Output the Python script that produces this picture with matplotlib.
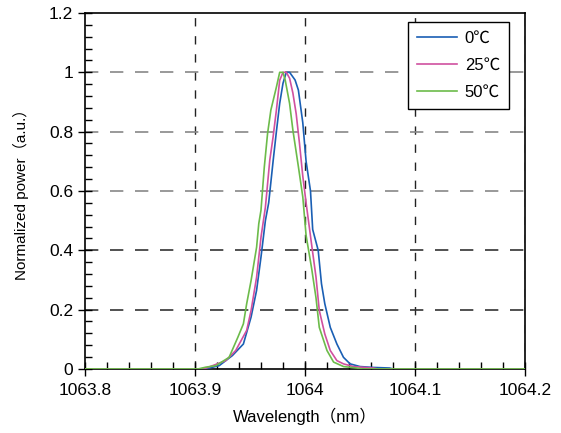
import matplotlib
matplotlib.use("Agg")
import matplotlib.pyplot as plt
from matplotlib.ticker import MultipleLocator

plt.rcParams['font.family'] = ['Liberation Sans', 'Noto Sans CJK JP', 'DejaVu Sans']

# Spectra (wavelength in nm, normalized power)
wl_0c = [1063.800, 1063.905, 1063.913, 1063.922, 1063.934, 1063.944, 1063.951, 1063.956,
         1063.960, 1063.964, 1063.967, 1063.971, 1063.974, 1063.977, 1063.980, 1063.983,
         1063.986, 1063.991, 1063.994, 1063.998, 1064.001, 1064.005, 1064.007, 1064.012,
         1064.015, 1064.018, 1064.023, 1064.029, 1064.035, 1064.041, 1064.050, 1064.062,
         1064.077, 1064.080, 1064.200]
pw_0c = [0.0, 0.0, 0.003, 0.011, 0.045, 0.084, 0.175, 0.265,
         0.377, 0.50, 0.56, 0.70, 0.80, 0.895, 0.963, 1.0,
         1.0, 0.974, 0.94, 0.83, 0.70, 0.60, 0.47, 0.40,
         0.287, 0.22, 0.14, 0.084, 0.039, 0.017, 0.008, 0.005,
         0.003, 0.0, 0.0]

wl_25c = [1063.800, 1063.908, 1063.916, 1063.928, 1063.937, 1063.947, 1063.951, 1063.956,
          1063.960, 1063.964, 1063.968, 1063.971, 1063.974, 1063.977, 1063.980, 1063.983,
          1063.986, 1063.989, 1063.992, 1063.995, 1063.998, 1064.001, 1064.006, 1064.010,
          1064.013, 1064.018, 1064.023, 1064.029, 1064.035, 1064.044, 1064.062, 1064.066,
          1064.200]
pw_25c = [0.0, 0.0, 0.011, 0.028, 0.062, 0.13, 0.197, 0.309,
          0.444, 0.545, 0.704, 0.782, 0.872, 0.973, 1.0, 1.0,
          0.98, 0.93, 0.86, 0.76, 0.65, 0.56, 0.42, 0.31,
          0.197, 0.118, 0.062, 0.028, 0.017, 0.008, 0.003, 0.0,
          0.0]

wl_50c = [1063.800, 1063.903, 1063.910, 1063.919, 1063.931, 1063.939, 1063.944, 1063.947,
          1063.951, 1063.956, 1063.958, 1063.960, 1063.963, 1063.966, 1063.969, 1063.974,
          1063.977, 1063.980, 1063.982, 1063.986, 1063.989, 1063.994, 1063.998, 1064.001,
          1064.006, 1064.010, 1064.013, 1064.020, 1064.026, 1064.035, 1064.047, 1064.052,
          1064.200]
pw_50c = [0.0, 0.0, 0.006, 0.011, 0.039, 0.107, 0.152, 0.22,
          0.298, 0.41, 0.49, 0.535, 0.68, 0.794, 0.873, 0.95,
          1.0, 1.0, 0.974, 0.895, 0.805, 0.682, 0.58, 0.45,
          0.34, 0.24, 0.14, 0.062, 0.023, 0.008, 0.003, 0.0,
          0.0]

labels = ['0℃', '25℃', '50℃']
colors = ['#1a5fb4', '#d0509f', '#6cbb4a']

fig = plt.figure(figsize=(5.61, 4.33), dpi=100)
ax = fig.add_axes([0.1515, 0.148, 0.7843, 0.822])

# dashed grid
for x in [1063.9, 1064.0, 1064.1, 1064.2]:
    ax.axvline(x, color='#222222', lw=1.0, dashes=(6, 7), zorder=1)
grid_cols = ['#333333', '#333333', '#888888', '#888888', '#888888']
for y, c in zip([0.2, 0.4, 0.6, 0.8, 1.0], grid_cols):
    ax.axhline(y, color=c, lw=1.2, dashes=(8, 7), zorder=1)

for wl, pw, lab, c in zip([wl_0c, wl_25c, wl_50c], [pw_0c, pw_25c, pw_50c], labels, colors):
    ax.plot(wl, pw, color=c, lw=1.2, label=lab, zorder=3)

ax.set_xlim(1063.8, 1064.2)
ax.set_ylim(0, 1.2)
ax.xaxis.set_minor_locator(MultipleLocator(0.02))
ax.yaxis.set_minor_locator(MultipleLocator(0.04))
ax.set_xticks([1063.8, 1063.9, 1064.0, 1064.1, 1064.2])
ax.set_xticklabels(['1063.8', '1063.9', '1064', '1064.1', '1064.2'])
ax.set_yticks([0, 0.2, 0.4, 0.6, 0.8, 1.0, 1.2])
ax.set_yticklabels(['0', '0.2', '0.4', '0.6', '0.8', '1', '1.2'])

ax.tick_params(which='major', direction='inout', length=10, width=1, labelsize=12.5,
               top=False, right=False, colors='black')
ax.tick_params(axis='x', which='major', pad=5)
ax.tick_params(which='minor', direction='in', length=5, width=1, top=False, right=False)
for s in ax.spines.values():
    s.set_linewidth(1.2)
    s.set_color('black')

ax.set_xlabel('Wavelength（nm）', fontsize=12, labelpad=7)
ax.set_ylabel('Normalized power（a.u.）', fontsize=11, labelpad=14)

leg = ax.legend(loc='upper right', bbox_to_anchor=(0.964, 0.975), frameon=True,
                fancybox=False, fontsize=12, handlelength=2.4, borderpad=0.55,
                labelspacing=0.72, handletextpad=0.45, borderaxespad=0)
leg.get_frame().set_edgecolor('black')
leg.get_frame().set_linewidth(1.0)
leg.get_frame().set_alpha(1)

fig.savefig('out.png', dpi=100)
